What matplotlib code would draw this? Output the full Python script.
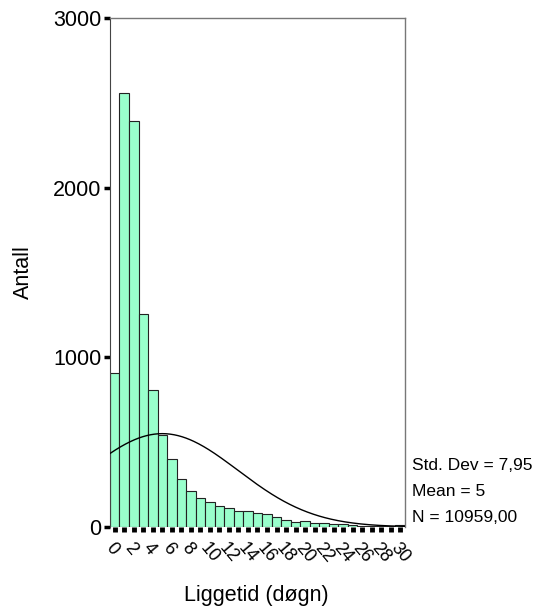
import numpy as np
import matplotlib
matplotlib.use("Agg")
import matplotlib.pyplot as plt

plt.rcParams['font.family'] = ['Liberation Sans', 'DejaVu Sans']

#--Data--
days = list(range(0, 31))
counts = [910, 2560, 2390, 1255, 810, 541, 400, 282, 214, 171, 145, 126, 110, 94, 96,
          82, 74, 57, 39, 31, 33, 25, 22, 18, 16, 12, 8, 8, 5, 8, 10]
x_ticklabels = [str(d) if d % 2 == 0 else '' for d in days]
y_ticks = [0, 1000, 2000, 3000]
std_dev = 7.95
mean = 5
n_total = 10959

#--Figure--
fig = plt.figure(figsize=(5.37, 6.12), dpi=100)
ax = fig.add_axes([0.2048, 0.139, 0.5494, 0.8316])

ax.bar(days, counts, width=1.0, color='#99FFCC', edgecolor='#222222', linewidth=0.8, zorder=2)

# fitted normal curve from the stated mean / std dev
xs = np.linspace(-0.5, 30.5, 300)
ys = n_total / (std_dev * np.sqrt(2 * np.pi)) * np.exp(-0.5 * ((xs - mean) / std_dev) ** 2)
ax.plot(xs, ys, color='black', linewidth=1.0, zorder=3)

ax.set_xlim(-0.5, 30.5)
ax.set_ylim(0, 3000)

ax.set_xticks(days)
ax.set_xticklabels(x_ticklabels, rotation=-50, ha='left', va='top', rotation_mode='anchor', fontsize=13)
ax.tick_params(axis='x', length=3.5, width=3.5, color='black', pad=6, direction='out')
ax.set_yticks(y_ticks)
ax.set_yticklabels([str(v) for v in y_ticks], fontsize=15.5)
ax.tick_params(axis='y', length=4, width=2.5, color='black', pad=2)

for s in ['top', 'right']:
    ax.spines[s].set_color('#777777')
    ax.spines[s].set_linewidth(1.0)
ax.spines['left'].set_color('#444444')
ax.spines['bottom'].set_visible(False)

ax.set_ylabel('Antall', fontsize=15.5, labelpad=14)
fig.text(0.477, 1 - 595 / 612, 'Liggetid (døgn)', fontsize=15.5, ha='center', va='center')

stats = ['Std. Dev = 7,95', 'Mean = 5', 'N = 10959,00']
for i, s in enumerate(stats):
    fig.text(0.767, 1 - (466 + 26 * i) / 612, s, fontsize=12.5, ha='left', va='center')

fig.savefig('out.png', dpi=100)
